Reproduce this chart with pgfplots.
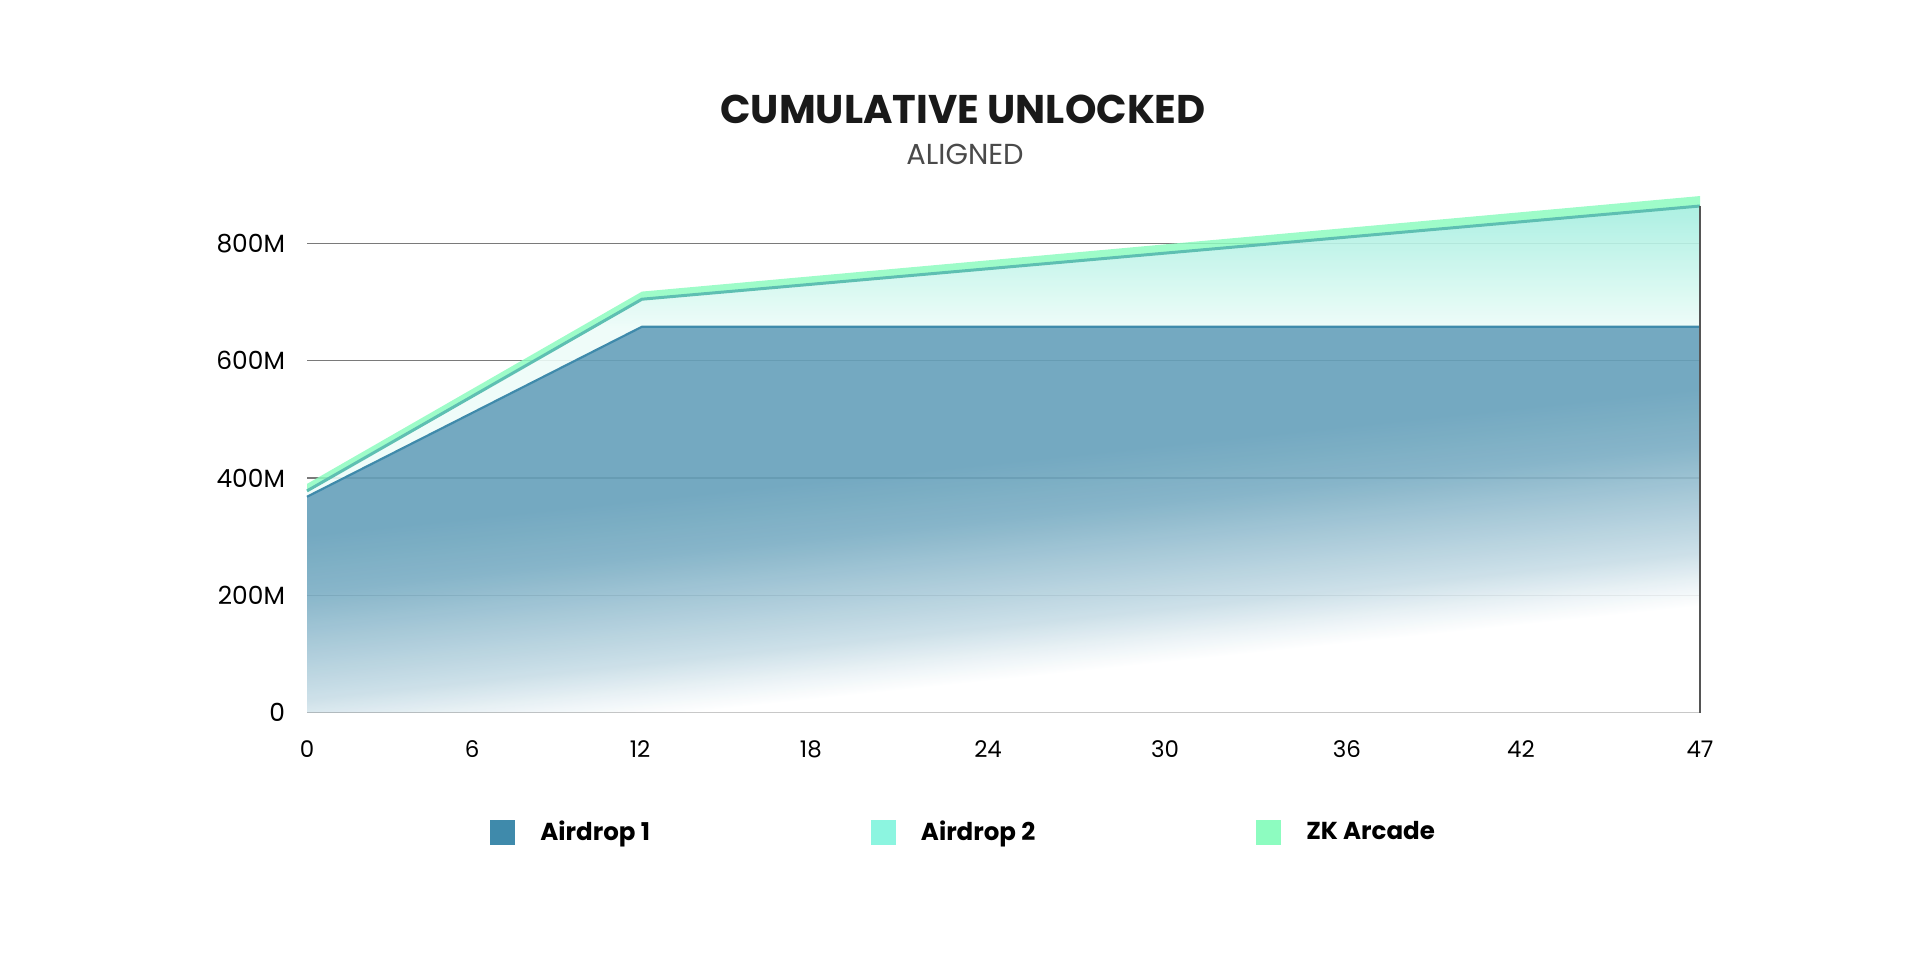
\documentclass[border=0pt]{standalone}
\usepackage{pgfplots}
\pgfplotsset{compat=1.18}
\usepackage{fontspec}
\setmainfont{Poppins}
\definecolor{a1}{HTML}{3F8AAB}
\definecolor{a1area}{HTML}{65A0BA}
\definecolor{a2}{HTML}{8CF5E0}
\definecolor{zk}{HTML}{8DFCC0}
\definecolor{a2line}{HTML}{5EBFB2}
\definecolor{a2l}{HTML}{EDFCF8}
\definecolor{a2d}{HTML}{A0EEDE}
\definecolor{gridc}{HTML}{7A7A7A}
\definecolor{subc}{HTML}{4A4A4A}
\pgfdeclareverticalshading{aonefade}{100bp}{color(0bp)=(white); color(33.5bp)=(white); color(36bp)=(a1area!15); color(39bp)=(a1area!36); color(47bp)=(a1area!72); color(50bp)=(a1area!86); color(56bp)=(a1area); color(100bp)=(a1area)}
\pgfdeclareverticalshading{atwofade}{100bp}{color(0bp)=(a2l); color(54bp)=(a2l); color(76bp)=(a2d); color(100bp)=(a2d)}
\begin{document}
\begin{tikzpicture}
\begin{axis}[
  at={(153.5bp,132.75bp)}, anchor=south west,
  scale only axis, width=696.5bp, height=263.8bp,
  xmin=0, xmax=47, ymin=0, ymax=900,
  axis line style={draw=none},
  ytick={0,200,400,600,800}, yticklabels={0,200M,400M,600M,800M},
  ymajorgrids, grid style={gridc, line width=0.7pt},
  xtick={0,5.57,11.24,17,22.98,28.95,35.09,40.96,47},
  xticklabels={0,6,12,18,24,30,36,42,47},
  major tick length=0pt,
  tick label style={text=black},
  yticklabel style={xshift=-7.5bp, font=\fontsize{12.5}{14}\selectfont},
  xticklabel style={yshift=-10.5bp, font=\fontsize{11.5}{13}\selectfont},
  clip=false,
  legend columns=3,
  legend cell align=left,
  legend style={at={(axis description cs:0.1314,-0.2265)}, anchor=west, draw=none, fill=none, inner sep=0pt,
    font=\bfseries\fontsize{12.3}{14}\selectfont,
    /tikz/every odd column/.append style={column sep=10.5bp},
    /tikz/every even column/.append style={column sep=108.5bp}},
  legend image code/.code={\fill[#1, draw=none] (0bp,-6.25bp) rectangle (12.5bp,6.25bp);},
]
% Airdrop 1 area
\addplot[draw=none, shade, shading=aonefade, shading angle=6, fill opacity=0.9, forget plot]
  coordinates {(0,368) (11.3,658) (47,658)} \closedcycle;
% Airdrop 2 band
\addplot[draw=none, shade, shading=atwofade, fill opacity=0.9, forget plot]
  coordinates {(0,368) (11.3,658) (47,658) (47,864) (11.3,705) (0,378)};
% ZK Arcade band
\addplot[draw=none, fill=zk, fill opacity=0.85, forget plot]
  coordinates {(0,378) (11.3,705) (47,864) (47,881) (11.3,718) (0,390)};
% lines
\addplot[a1, line width=1.1pt, forget plot] coordinates {(0,368) (11.3,658) (47,658)};
\addplot[a2line, line width=1.5pt, forget plot] coordinates {(0,378) (11.3,705) (47,864)};
\addplot[gridc!70!black, line width=0.8pt, forget plot] coordinates {(47,0) (47,864)};
\addlegendimage{fill=a1}
\addlegendentry{Airdrop 1}
\addlegendimage{fill=a2}
\addlegendentry{Airdrop 2}
\addlegendimage{fill=zk}
\addlegendentry{ZK Arcade}
\end{axis}
\node[font=\bfseries\fontsize{20.1}{23}\selectfont, inner sep=0pt, text=black!90] at (481.5bp,434.3bp) {CUMULATIVE UNLOCKED};
\node[font=\fontsize{14.5}{16}\selectfont, inner sep=0pt, text=subc] at (482.5bp,412bp) {ALIGNED};
\path[use as bounding box] (0,0) rectangle (963bp,489bp);
\end{tikzpicture}
\end{document}
